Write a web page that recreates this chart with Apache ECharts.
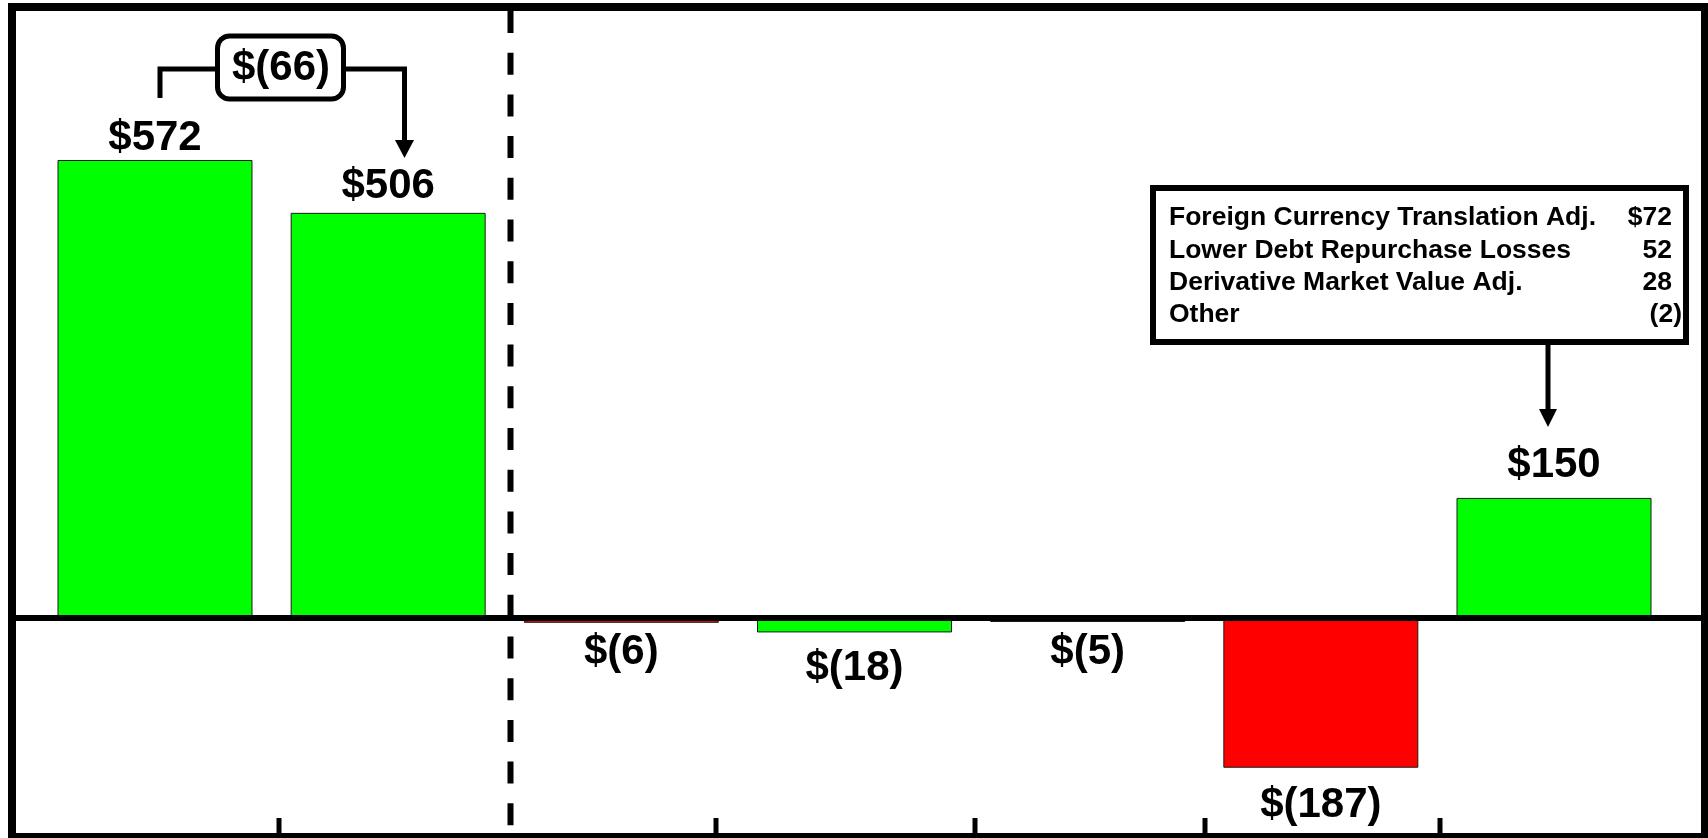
<!DOCTYPE html>
<html>
<head>
<meta charset="utf-8">
<script src="https://cdn.jsdelivr.net/npm/echarts@6/dist/echarts.min.js"></script>
<style>
  html, body { margin: 0; padding: 0; background: #ffffff; }
  #chart { width: 1708px; height: 838px; }
</style>
</head>
<body>
<div id="chart"></div>
<script>
// ---- data ----
var categories = ['Prior Period', 'Current Period', 'Item 1', 'Item 2', 'Item 3', 'Item 4', 'Item 5'];
var values = [572, 506, -6, -18, -5, -187, 150];
var favorable = [true, true, false, true, false, false, true];
var breakdownLabels = ['Foreign Currency Translation Adj.', 'Lower Debt Repurchase Losses', 'Derivative Market Value Adj.', 'Other'];
var breakdownValues = [72, 52, 28, -2];
var changeValue = values[1] - values[0];

// ---- presentation (kept apart from the data) ----
var FONT = '"Liberation Sans", Arial, Helvetica, sans-serif';
var GREEN = '#00ff00', RED = '#ff0000';
var labelNudge = [8, 4, 0, 5.5, 0, 7.5, -2]; // px, vertical tweak per label

function money(v) { return v < 0 ? '$(' + (-v) + ')' : '$' + v; }
function plain(v, i) { if (v < 0) return '(' + (-v) + ')'; return i === 0 ? '$' + v : String(v); }

var barData = values.map(function (v, i) {
  return {
    value: v,
    itemStyle: { color: favorable[i] ? GREEN : RED },
    label: { position: v < 0 ? 'bottom' : 'top', offset: [0, labelNudge[i]] }
  };
});

var chart = echarts.init(document.getElementById('chart'), null, { renderer: 'canvas' });

chart.setOption({
  animation: false,
  backgroundColor: '#ffffff',
  grid: { left: 38.4, right: 37.4, top: 11, bottom: 5, containLabel: false },
  xAxis: {
    type: 'category',
    data: categories,
    axisLine: { show: false },
    axisTick: { show: false },
    axisLabel: { show: false },
    splitLine: { show: false }
  },
  yAxis: {
    type: 'value',
    min: -268.5,
    max: 758.1,
    axisLine: { show: false },
    axisTick: { show: false },
    axisLabel: { show: false },
    splitLine: { show: false }
  },
  series: [{
    type: 'bar',
    data: barData,
    barWidth: 195,
    itemStyle: { borderColor: '#1a1a1a', borderWidth: 1 },
    label: {
      show: true,
      distance: 9,
      formatter: function (p) { return money(p.value); },
      fontFamily: FONT,
      fontWeight: 'bold',
      fontSize: 42,
      color: '#000000'
    },
    z: 2
  }]
});

var y0 = chart.convertToPixel({ yAxisIndex: 0 }, 0);

var g = [];
// outer frame
g.push({ type: 'rect', z: 20, shape: { x: 12, y: 7, width: 1693, height: 830 },
  style: { fill: 'none', stroke: '#000', lineWidth: 8 } });
// zero line
g.push({ type: 'line', z: 20, shape: { x1: 16, y1: y0, x2: 1701, y2: y0 },
  style: { stroke: '#000', lineWidth: 6 } });
// dashed separator
g.push({ type: 'line', z: 19, shape: { x1: 510.5, y1: 11, x2: 510.5, y2: 833 },
  style: { stroke: '#000', lineWidth: 6, lineDash: [22, 19.7] } });
// bottom ticks
[279, 716, 975, 1205, 1440].forEach(function (x) {
  g.push({ type: 'line', z: 20, shape: { x1: x, y1: 818, x2: x, y2: 834 },
    style: { stroke: '#000', lineWidth: 5 } });
});

// bracket with change box
g.push({ type: 'polyline', z: 20, shape: { points: [[160, 98], [160, 69], [216, 69]] },
  style: { stroke: '#000', lineWidth: 5, fill: 'none' } });
g.push({ type: 'polyline', z: 20, shape: { points: [[344, 69], [404.5, 69], [404.5, 142]] },
  style: { stroke: '#000', lineWidth: 5, fill: 'none' } });
g.push({ type: 'polygon', z: 20, shape: { points: [[395, 140], [414, 140], [404.5, 158]] },
  style: { fill: '#000' } });
g.push({ type: 'rect', z: 21, shape: { x: 217.5, y: 36, width: 126, height: 63, r: 12 },
  style: { fill: '#fff', stroke: '#000', lineWidth: 5 } });
g.push({ type: 'text', z: 22, x: 281, y: 68,
  style: { text: money(changeValue), fontFamily: FONT, fontWeight: 'bold', fontSize: 42,
    fill: '#000', align: 'center', verticalAlign: 'middle' } });

// breakdown box
g.push({ type: 'rect', z: 21, shape: { x: 1153, y: 188, width: 533, height: 154 },
  style: { fill: '#fff', stroke: '#000', lineWidth: 6 } });
var lineYs = [218, 250.5, 283, 315];
breakdownLabels.forEach(function (t, i) {
  g.push({ type: 'text', z: 22, x: 1169, y: lineYs[i],
    style: { text: t, fontFamily: FONT, fontWeight: 'bold', fontSize: 26.5, fill: '#000',
      align: 'left', verticalAlign: 'middle' } });
  var s = plain(breakdownValues[i], i);
  g.push({ type: 'text', z: 22, x: breakdownValues[i] < 0 ? 1682 : 1672, y: lineYs[i],
    style: { text: s, fontFamily: FONT, fontWeight: 'bold', fontSize: 26.5, fill: '#000',
      align: 'right', verticalAlign: 'middle' } });
});
// arrow from breakdown box to last bar
g.push({ type: 'line', z: 20, shape: { x1: 1548, y1: 345, x2: 1548, y2: 411 },
  style: { stroke: '#000', lineWidth: 5 } });
g.push({ type: 'polygon', z: 20, shape: { points: [[1539, 409], [1557, 409], [1548, 427]] },
  style: { fill: '#000' } });

chart.setOption({ graphic: g });
</script>
</body>
</html>
